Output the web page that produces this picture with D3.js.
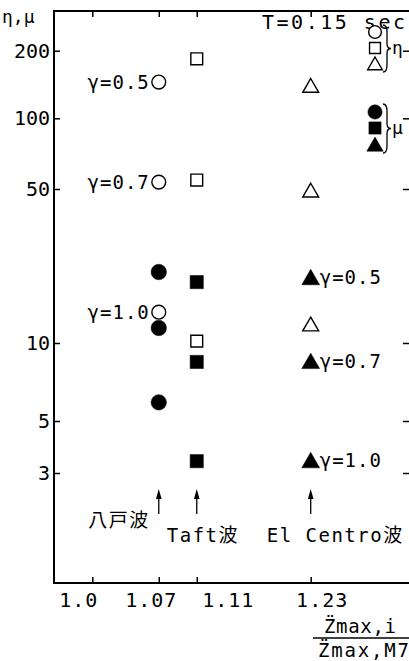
<!DOCTYPE html>
<html>
<head>
<meta charset="utf-8">
<script src="https://cdn.jsdelivr.net/npm/d3@7"></script>
<style>
  html, body { margin: 0; padding: 0; background: #fff; }
  svg { display: block; }
  text { font-family: "DejaVu Sans Mono", "Noto Sans CJK JP", monospace; fill: #000; }
</style>
</head>
<body>
<script>
// Ground-motion cases and their amplitude ratios on the x axis
const waves = ["八戸波", "Taft波", "El Centro波"];
const waveRatio = [1.07, 1.11, 1.23];
const gammaLabels = ["γ=0.5", "γ=0.7", "γ=1.0"];

// η (open markers) and μ (filled markers) for γ = 0.5, 0.7, 1.0
const etaHachinohe = [145, 53.5, 13.8];
const muHachinohe = [21, 11.7, 5.9];
const etaTaft = [184, 54.6, 10.2];
const muTaft = [18.9, 8.45, 3.37];
const etaElCentro = [139, 49, 12.1];
const muElCentro = [19.7, 8.45, 3.37];

// Axis ticks
const yTicks = [3, 5, 10, 50, 100, 200];
const xTicks = [1.0, 1.07, 1.11, 1.23];
const xTickLabels = ["1.0", "1.07", "1.11", "1.23"];

const W = 409, H = 661;
const frame = { left: 54, top: 11, right: 412, bottom: 583 };

const svg = d3.select("body").append("svg")
  .attr("width", W).attr("height", H);

const x = d3.scaleLinear().domain([1.0, 1.23]).range([92.3, 310.7]);
// log axis, hand-spaced between its decade marks
const y = d3.scaleLog()
  .domain([3, 5, 10, 50, 100, 200])
  .range([473, 421, 343, 189, 118.3, 50.7]);

// ---- frame ----
svg.append("path")
  .attr("d", `M${frame.right},${frame.top}H${frame.left}V${frame.bottom}H${frame.right}`)
  .attr("fill", "none").attr("stroke", "#000").attr("stroke-width", 2);

// ---- axes (ticks point inward) ----
const styleAxis = g => {
  g.select(".domain").remove();
  g.selectAll(".tick line").attr("stroke", "#000").attr("stroke-width", 1.5);
};

svg.append("g")
  .attr("transform", `translate(${frame.left},0)`)
  .call(d3.axisLeft(y).tickValues(yTicks).tickSize(-6).tickPadding(4)
    .tickFormat(d3.format("d")))
  .call(styleAxis)
  .call(g => g.selectAll(".tick text")
    .attr("font-size", 20).attr("font-family", "DejaVu Sans Mono"));

svg.append("g")
  .attr("transform", `translate(${frame.right},0)`)
  .call(d3.axisRight(y).tickValues(yTicks).tickSize(-9).tickFormat(""))
  .call(styleAxis);

svg.append("g")
  .attr("transform", `translate(0,${frame.top})`)
  .call(d3.axisTop(x).tickValues(xTicks).tickSize(-6).tickFormat(""))
  .call(styleAxis);

const labelShift = [-14, -8, 31, 11];
svg.append("g")
  .attr("transform", `translate(0,${frame.bottom})`)
  .call(d3.axisBottom(x).tickValues(xTicks).tickSize(-6).tickPadding(10)
    .tickFormat((d, i) => xTickLabels[i]))
  .call(styleAxis)
  .call(g => g.selectAll(".tick text")
    .attr("font-size", 20)
    .attr("letter-spacing", 1)
    .attr("dx", (d, i) => labelShift[i]));

// ---- axis titles ----
svg.append("text").attr("x", 2).attr("y", 23)
  .attr("font-size", 18).text("η,μ");

svg.append("text").attr("x", 262).attr("y", 29)
  .attr("font-size", 20).attr("textLength", 143).attr("lengthAdjust", "spacing")
  .text("T=0.15 sec");

const frac = svg.append("g");
frac.append("text").attr("x", 324).attr("y", 633)
  .attr("font-size", 19).attr("textLength", 72).attr("lengthAdjust", "spacing")
  .text("Z\u0308max,i");
frac.append("line").attr("x1", 313).attr("x2", 412).attr("y1", 638).attr("y2", 638)
  .attr("stroke", "#000").attr("stroke-width", 1.5);
frac.append("text").attr("x", 318).attr("y", 657)
  .attr("font-size", 19).attr("textLength", 91).attr("lengthAdjust", "spacing")
  .text("Z\u0308max,M7");

// ---- markers ----
const symbolSize = { circle: 150, square: 140, triangle: 110 };
const symType = { circle: d3.symbolCircle, square: d3.symbolSquare, triangle: d3.symbolTriangle };

function drawMarker(g, shape, filled, cx, cy, scale = 1) {
  const base = symbolSize[shape] * scale * (filled ? 1.25 : 1);
  g.append("path")
    .attr("d", d3.symbol().type(symType[shape]).size(base)())
    .attr("transform", `translate(${cx},${cy + (shape === "triangle" ? 1.5 : 0)})`)
    .attr("fill", filled ? "#000" : "#fff")
    .attr("stroke", "#000")
    .attr("stroke-width", filled ? 0.5 : 1.4);
}

const series = [
  { shape: "circle", col: 0, eta: etaHachinohe, mu: muHachinohe },
  { shape: "square", col: 1, eta: etaTaft, mu: muTaft },
  { shape: "triangle", col: 2, eta: etaElCentro, mu: muElCentro }
];

const marks = svg.append("g");
series.forEach(s => {
  const cx = x(waveRatio[s.col]);
  s.eta.forEach(v => drawMarker(marks, s.shape, false, cx, y(v)));
  s.mu.forEach(v => drawMarker(marks, s.shape, true, cx, y(v)));
});

// γ labels: η side for 八戸波, μ side for El Centro波
etaHachinohe.forEach((v, i) => {
  svg.append("text")
    .attr("x", x(waveRatio[0]) - 9).attr("y", y(v)).attr("dy", "0.36em")
    .attr("text-anchor", "end").attr("font-size", 19).attr("letter-spacing", 1)
    .text(gammaLabels[i]);
});
muElCentro.forEach((v, i) => {
  svg.append("text")
    .attr("x", x(waveRatio[2]) + 9).attr("y", y(v)).attr("dy", "0.3em")
    .attr("font-size", 19).attr("letter-spacing", 1)
    .text(gammaLabels[i]);
});

// ---- arrows and wave names ----
waveRatio.forEach(r => {
  const ax = x(r);
  svg.append("line")
    .attr("x1", ax).attr("x2", ax).attr("y1", 514).attr("y2", 497)
    .attr("stroke", "#000").attr("stroke-width", 1.3);
  svg.append("path")
    .attr("d", `M${ax},489L${ax + 2.8},499L${ax - 2.8},499Z`)
    .attr("fill", "#000");
});

const waveLabelPos = [
  { dx: -9, y: 527, anchor: "end" },
  { dx: -30, y: 542, anchor: "start" },
  { dx: -44, y: 542, anchor: "start" }
];
waves.forEach((w, i) => {
  const p = waveLabelPos[i];
  svg.append("text")
    .attr("x", x(waveRatio[i]) + p.dx).attr("y", p.y)
    .attr("text-anchor", p.anchor).attr("font-size", 19).attr("letter-spacing", 1.5)
    .text(w);
});

// ---- legend ----
const legend = svg.append("g");
const legX = 375;
const legEta = [32, 48, 64], legMu = [112, 128, 145];
["circle", "square", "triangle"].forEach((s, i) => {
  drawMarker(legend, s, false, legX, legEta[i], 0.85);
  drawMarker(legend, s, true, legX, legMu[i], 0.85);
});

function brace(x0, y0, y1, w) {
  const h = y1 - y0, ym = (y0 + y1) / 2, xm = x0 + w / 2;
  return `M${x0},${y0}Q${xm},${y0} ${xm},${y0 + h * 0.15}` +
    `L${xm},${ym - h * 0.1}Q${xm},${ym} ${x0 + w},${ym}` +
    `Q${xm},${ym} ${xm},${ym + h * 0.1}L${xm},${y1 - h * 0.15}` +
    `Q${xm},${y1} ${x0},${y1}`;
}
legend.append("path").attr("d", brace(383, 25, 72, 8))
  .attr("fill", "none").attr("stroke", "#000").attr("stroke-width", 1.3);
legend.append("path").attr("d", brace(383, 104, 153, 8))
  .attr("fill", "none").attr("stroke", "#000").attr("stroke-width", 1.3);
legend.append("text").attr("x", 392).attr("y", 54).attr("font-size", 18).text("η");
legend.append("text").attr("x", 392).attr("y", 134).attr("font-size", 18).text("μ");
</script>
</body>
</html>
